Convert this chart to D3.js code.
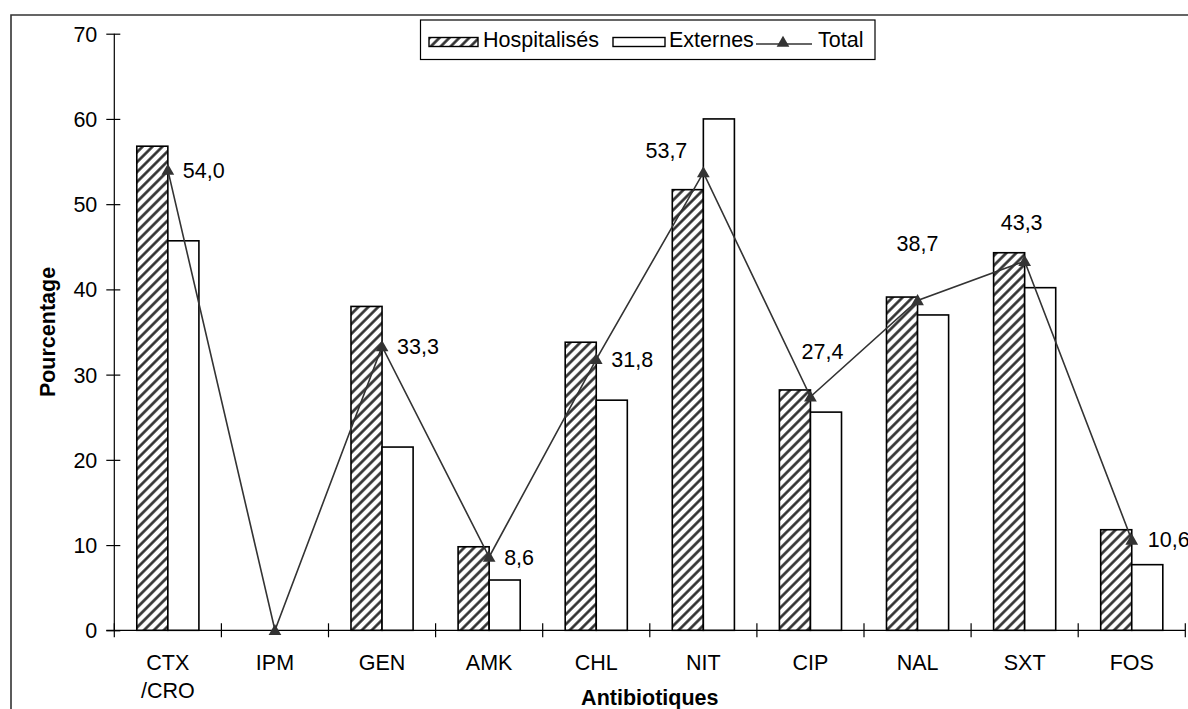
<!DOCTYPE html>
<html>
<head>
<meta charset="utf-8">
<script src="https://cdn.jsdelivr.net/npm/d3@7"></script>
<style>
  html, body { margin: 0; padding: 0; background: #fff; }
  svg { display: block; font-family: "Liberation Sans", Arial, sans-serif; }
</style>
</head>
<body>
<svg id="chart" width="1188" height="709"></svg>
<script>
// Antibiotic resistance by patient group (%)
const categories = ["CTX\n/CRO", "IPM", "GEN", "AMK", "CHL", "NIT", "CIP", "NAL", "SXT", "FOS"];
const hospitalises = [56.8, 0, 38.0, 9.8, 33.8, 51.7, 28.2, 39.1, 44.3, 11.8];
const externes     = [45.7, 0, 21.5, 5.9, 27.0, 60.0, 25.6, 37.0, 40.2, 7.7];
const total        = [54.0, 0, 33.3, 8.6, 31.8, 53.7, 27.4, 38.7, 43.3, 10.6];
const yTicks = [0, 10, 20, 30, 40, 50, 60, 70];
const seriesNames = ["Hospitalisés", "Externes", "Total"];

// Where each total label sits relative to its marker (null = no label)
const labelPlacement = [
  { dx: 15, dy: 0, anchor: "start" },
  null,
  { dx: 15, dy: 0, anchor: "start" },
  { dx: 15, dy: 0, anchor: "start" },
  { dx: 15, dy: 0, anchor: "start" },
  { dx: -16, dy: -22, anchor: "end" },
  { dx: 12, dy: -45, anchor: "middle" },
  { dx: 0, dy: -57, anchor: "middle" },
  { dx: -3, dy: -39, anchor: "middle" },
  { dx: 16, dy: 0, anchor: "start" }
];

const fmt = v => v.toFixed(1).replace(".", ",");
const FS = 21.5;

const svg = d3.select("#chart");

// Diagonal hatch for the "Hospitalisés" bars
const defs = svg.append("defs");
defs.append("pattern")
  .attr("id", "hatch")
  .attr("patternUnits", "userSpaceOnUse")
  .attr("width", 7).attr("height", 7)
  .attr("patternTransform", "rotate(45)")
  .call(p => {
    p.append("rect").attr("width", 7).attr("height", 7).attr("fill", "#fff");
    p.append("line").attr("x1", 1.5).attr("y1", 0).attr("x2", 1.5).attr("y2", 7)
      .attr("stroke", "#2a2a2a").attr("stroke-width", 2.6);
  });

// Outer frame (runs off the right and bottom edges)
svg.append("path")
  .attr("d", "M11,720 L11,15 L1200,15")
  .attr("fill", "none").attr("stroke", "#333").attr("stroke-width", 1.6);

const x0 = 114.3, x1 = 1185.3, yTop = 33.7, yBottom = 630.3;

const x = d3.scaleBand().domain(d3.range(categories.length)).range([x0, x1]).padding(0);
const y = d3.scaleLinear().domain([0, 70]).range([yBottom, yTop]);
const barW = x.bandwidth() * 0.29;

// Y axis with crossing ticks
const yAxis = svg.append("g").attr("transform", `translate(${x0},0)`)
  .call(d3.axisLeft(y).tickValues(yTicks).tickSize(0).tickPadding(0).tickFormat(d3.format("d")));
yAxis.select(".domain").remove();
yAxis.selectAll(".tick text").remove();
yAxis.append("line").attr("x1", 0).attr("x2", 0).attr("y1", yTop).attr("y2", yBottom).attr("stroke", "#000").attr("stroke-width", 1.2);
yAxis.selectAll(".tick").append("line").attr("x1", -8).attr("x2", 6).attr("stroke", "#000").attr("stroke-width", 1.2);
yAxis.selectAll(".tick").append("text")
  .attr("x", -17).attr("dy", "0.35em").attr("text-anchor", "end")
  .attr("font-size", FS).attr("fill", "#000")
  .text(d => d);

// X axis with crossing ticks at band boundaries
const xg = svg.append("g");
xg.append("line").attr("x1", x0 - 8).attr("x2", x1).attr("y1", yBottom).attr("y2", yBottom)
  .attr("stroke", "#000").attr("stroke-width", 1.2);
const bounds = d3.range(categories.length + 1).map(i => x0 + i * x.step());
xg.selectAll(".xt").data(bounds).join("line").attr("class", "xt")
  .attr("x1", d => d).attr("x2", d => d).attr("y1", yBottom - 7).attr("y2", yBottom + 7)
  .attr("stroke", "#000").attr("stroke-width", 1.2);
xg.selectAll(".xl").data(categories).join("text").attr("class", "xl")
  .attr("x", (d, i) => x(i) + x.bandwidth() / 2)
  .attr("y", 670)
  .attr("text-anchor", "middle").attr("font-size", FS).attr("fill", "#000")
  .each(function (d) {
    const t = d3.select(this);
    d.split("\n").forEach((line, k) => {
      t.append("tspan").attr("x", t.attr("x")).attr("dy", k === 0 ? 0 : 27.5).text(line);
    });
  });

// Axis titles
svg.append("text").attr("x", (x0 + x1) / 2).attr("y", 705)
  .attr("text-anchor", "middle").attr("font-size", FS).attr("font-weight", "bold")
  .text("Antibiotiques");
svg.append("text").attr("transform", "translate(55,332) rotate(-90)")
  .attr("text-anchor", "middle").attr("font-size", FS).attr("font-weight", "bold")
  .text("Pourcentage");

// Bars
const cx = i => x(i) + x.bandwidth() / 2;
svg.append("g").selectAll("rect").data(hospitalises).join("rect")
  .attr("x", (d, i) => cx(i) - barW).attr("width", barW)
  .attr("y", d => y(d)).attr("height", d => yBottom - y(d))
  .attr("fill", "url(#hatch)").attr("stroke", "#000").attr("stroke-width", 1.6)
  .attr("display", d => d > 0 ? null : "none");
svg.append("g").selectAll("rect").data(externes).join("rect")
  .attr("x", (d, i) => cx(i)).attr("width", barW)
  .attr("y", d => y(d)).attr("height", d => yBottom - y(d))
  .attr("fill", "#fff").attr("stroke", "#000").attr("stroke-width", 1.6)
  .attr("display", d => d > 0 ? null : "none");

// Total line + triangle markers
const line = d3.line().x((d, i) => cx(i)).y(d => y(d));
svg.append("path").datum(total).attr("d", line)
  .attr("fill", "none").attr("stroke", "#333").attr("stroke-width", 1.6);
const tri = d3.symbol().type(d3.symbolTriangle).size(70);
svg.append("g").selectAll("path").data(total).join("path")
  .attr("transform", (d, i) => `translate(${cx(i)},${y(d) + 1})`)
  .attr("d", tri).attr("fill", "#333");

// Total value labels
const labelData = total
  .map((v, i) => ({ v, i, p: labelPlacement[i] }))
  .filter(d => d.p !== null);
svg.append("g").selectAll("text").data(labelData).join("text")
  .attr("x", d => cx(d.i) + d.p.dx)
  .attr("y", d => y(d.v) + d.p.dy)
  .attr("dy", "0.35em")
  .attr("text-anchor", d => d.p.anchor)
  .attr("font-size", FS).attr("fill", "#000")
  .text(d => fmt(d.v));

// Legend
const lg = svg.append("g");
lg.append("rect").attr("x", 420.5).attr("y", 20).attr("width", 454.5).attr("height", 39.5)
  .attr("fill", "#fff").attr("stroke", "#000").attr("stroke-width", 1.2);
lg.append("rect").attr("x", 429).attr("y", 37.5).attr("width", 49).attr("height", 9)
  .attr("fill", "url(#hatch)").attr("stroke", "#000").attr("stroke-width", 1.4);
lg.append("text").attr("x", 483).attr("y", 46.5).attr("font-size", FS).text(seriesNames[0]);
lg.append("rect").attr("x", 613).attr("y", 37.5).attr("width", 52).attr("height", 9)
  .attr("fill", "#fff").attr("stroke", "#000").attr("stroke-width", 1.4);
lg.append("text").attr("x", 669).attr("y", 46.5).attr("font-size", FS).text(seriesNames[1]);
lg.append("line").attr("x1", 756).attr("x2", 812).attr("y1", 44).attr("y2", 44)
  .attr("stroke", "#333").attr("stroke-width", 1.6);
lg.append("path").attr("transform", "translate(783,43)").attr("d", tri).attr("fill", "#333");
lg.append("text").attr("x", 818).attr("y", 46.5).attr("font-size", FS).text(seriesNames[2]);
</script>
</body>
</html>
